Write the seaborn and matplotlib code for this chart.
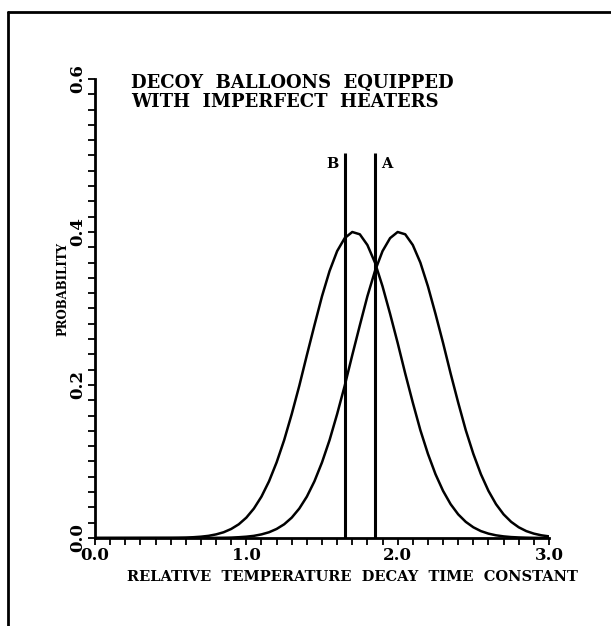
import numpy as np
import pandas as pd
import matplotlib
matplotlib.use('Agg')
import matplotlib.pyplot as plt
from matplotlib.lines import Line2D
from matplotlib.ticker import MultipleLocator, FixedLocator
import seaborn as sns

# values
x_vals = [0.0, 0.5, 0.55, 0.6, 0.65, 0.7, 0.75, 0.8, 0.85, 0.9, 0.95,
          1.0, 1.05, 1.1, 1.15, 1.2, 1.25, 1.3, 1.35, 1.4, 1.45,
          1.5, 1.55, 1.6, 1.65, 1.7, 1.75, 1.8, 1.85, 1.9, 1.95,
          2.0, 2.05, 2.1, 2.15, 2.2, 2.25, 2.3, 2.35, 2.4, 2.45,
          2.5, 2.55, 2.6, 2.65, 2.7, 2.75, 2.8, 2.85, 2.9, 2.95, 3.0]
prob_b = [0.0, 0.0002, 0.0003, 0.0005, 0.0010, 0.0017, 0.0028, 0.0047, 0.0075, 0.0118, 0.0179,
          0.0266, 0.0385, 0.0541, 0.0741, 0.0988, 0.128, 0.162, 0.199, 0.239, 0.278,
          0.316, 0.349, 0.375, 0.392, 0.400, 0.397, 0.383, 0.360, 0.329, 0.293,
          0.255, 0.215, 0.177, 0.141, 0.110, 0.0834, 0.0616, 0.0442, 0.0309, 0.0211,
          0.0140, 0.0090, 0.0057, 0.0035, 0.0021, 0.0012, 0.0007, 0.0004, 0.0002, 0.0001, 0.0001]
prob_a = [0.0, 0.0, 0.0, 0.0, 0.0, 0.0001, 0.0001, 0.0002, 0.0003, 0.0005, 0.0010,
          0.0017, 0.0028, 0.0047, 0.0075, 0.0118, 0.0179, 0.0266, 0.0385, 0.0541, 0.0741,
          0.0988, 0.128, 0.162, 0.199, 0.239, 0.278, 0.316, 0.349, 0.375, 0.392,
          0.400, 0.397, 0.383, 0.360, 0.329, 0.293, 0.255, 0.215, 0.177, 0.141,
          0.110, 0.0834, 0.0616, 0.0442, 0.0309, 0.0211, 0.0140, 0.0090, 0.0057, 0.0035, 0.0021]
mark_x = [1.65, 1.85]
mark_labels = ['B', 'A']
mark_top = 0.503
x_ticks = [0.0, 1.0, 2.0, 3.0]
y_ticks = [0.0, 0.2, 0.4, 0.6]

df = pd.DataFrame({'x': x_vals * 2,
                   'p': prob_b + prob_a,
                   'curve': ['B'] * len(x_vals) + ['A'] * len(x_vals)})

sns.set_theme(style="white")
plt.rcParams['font.family'] = ['DejaVu Serif']
plt.rcParams['font.weight'] = 'bold'
plt.rcParams['text.color'] = 'black'
plt.rcParams['axes.labelcolor'] = 'black'
plt.rcParams['xtick.color'] = 'black'
plt.rcParams['ytick.color'] = 'black'

fig = plt.figure(figsize=(6.11, 6.26), dpi=100)
ax = fig.add_axes([0.1555, 0.1406, 0.743, 0.7332])

sns.lineplot(data=df, x='x', y='p', units='curve', estimator=None,
             color='black', linewidth=1.8, ax=ax)
ax.vlines(mark_x, 0, mark_top, color='black', linewidth=2.2)
for xm, lab in zip(mark_x, mark_labels):
    if lab == 'B':
        ax.text(xm - 0.04, mark_top - 0.014, lab, ha='right', va='center', fontsize=10.5, fontweight='bold')
    else:
        ax.text(xm + 0.04, mark_top - 0.014, lab, ha='left', va='center', fontsize=10.5, fontweight='bold')

ax.set_xlim(0, 3.0)
ax.set_ylim(0, 0.6)
ax.xaxis.set_major_locator(FixedLocator(x_ticks))
ax.yaxis.set_major_locator(FixedLocator(y_ticks))
ax.xaxis.set_minor_locator(MultipleLocator(0.1))
ax.yaxis.set_minor_locator(MultipleLocator(0.02))
ax.set_xticklabels([f'{v:.1f}' for v in x_ticks], fontsize=12, fontweight='bold')
ax.set_yticklabels([f'{v:.1f}' for v in y_ticks], fontsize=12, fontweight='bold',
                   rotation=90, va='center')
ax.tick_params(which='both', direction='out', length=5, width=1.3, color='black',
               bottom=True, left=True, pad=1.5)

for s in ['top', 'right']:
    ax.spines[s].set_visible(False)
for s in ['left', 'bottom']:
    ax.spines[s].set_color('black')
    ax.spines[s].set_linewidth(2.0)

ax.set_xlabel('RELATIVE  TEMPERATURE  DECAY  TIME  CONSTANT', fontsize=10.5, fontweight='bold')
ax.xaxis.set_label_coords(0.568, -0.085)
ax.xaxis.label.set_va('center')
ax.set_ylabel('PROBABILITY', fontsize=8.5, fontweight='bold')
ax.yaxis.set_label_coords(-0.0705, 0.5425)
ax.yaxis.label.set_va('center')

fig.text(0.214, 0.882, 'DECOY  BALLOONS  EQUIPPED\nWITH  IMPERFECT  HEATERS',
         ha='left', va='top', fontsize=13, fontweight='bold', linespacing=1.1)

# scan border
fig.add_artist(Line2D([0.013, 1.0], [0.981, 0.981], color='black', linewidth=2))
fig.add_artist(Line2D([0.013, 0.013], [0.0, 0.981], color='black', linewidth=2))

fig.savefig('out.png', dpi=100)
